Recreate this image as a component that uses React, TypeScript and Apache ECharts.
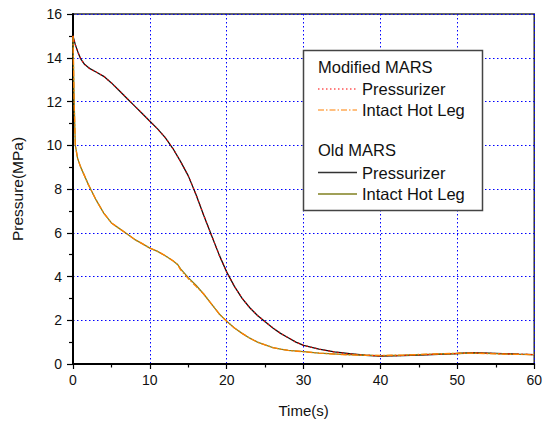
import React, { useEffect, useRef } from "react";
import * as echarts from "echarts";

// Old MARS – pressurizer
const przTime = [0, 0.3, 0.7, 1, 1.5, 2.2, 3, 4, 5, 6, 7, 8, 9, 10, 11, 12, 13, 14, 15, 16, 17, 18, 19, 20, 21, 22, 23, 24, 25, 26, 27, 28, 29, 30, 32, 34, 36, 38, 40, 43, 46, 50, 52, 55, 58, 60];
const przOld = [15.0, 14.6, 14.2, 13.95, 13.7, 13.5, 13.35, 13.15, 12.85, 12.5, 12.15, 11.8, 11.45, 11.1, 10.75, 10.35, 9.85, 9.25, 8.6, 7.75, 6.8, 5.9, 5.0, 4.2, 3.55, 3.0, 2.57, 2.22, 1.93, 1.65, 1.4, 1.2, 1.0, 0.85, 0.68, 0.55, 0.47, 0.4, 0.36, 0.38, 0.42, 0.48, 0.52, 0.49, 0.45, 0.43];
const przMod = [15.0, 14.6, 14.2, 13.95, 13.7, 13.5, 13.35, 13.15, 12.85, 12.5, 12.15, 11.8, 11.45, 11.1, 10.75, 10.35, 9.85, 9.25, 8.6, 7.75, 6.8, 5.9, 5.0, 4.2, 3.55, 3.0, 2.57, 2.22, 1.93, 1.65, 1.4, 1.2, 1.0, 0.85, 0.68, 0.55, 0.46, 0.4, 0.37, 0.39, 0.43, 0.48, 0.51, 0.48, 0.45, 0.43];

// Intact hot leg
const hlTime = [0, 0.05, 0.15, 0.3, 0.6, 1, 2, 3, 4, 5, 6, 7, 8, 9, 10, 11, 12, 13, 13.6, 14, 15, 16, 17, 18, 19, 20, 21, 22, 23, 24, 25, 26, 27, 28, 30, 32, 35, 38, 40, 43, 46, 50, 52, 55, 58, 60];
const hlOld = [15.0, 14.0, 12.0, 10.0, 9.4, 9.0, 8.2, 7.5, 6.9, 6.45, 6.2, 5.95, 5.7, 5.5, 5.3, 5.15, 4.95, 4.72, 4.55, 4.35, 3.95, 3.6, 3.2, 2.75, 2.3, 1.95, 1.65, 1.4, 1.18, 1.0, 0.87, 0.75, 0.68, 0.62, 0.57, 0.5, 0.44, 0.4, 0.38, 0.4, 0.44, 0.48, 0.5, 0.47, 0.44, 0.43];
const hlMod = [15.0, 14.0, 12.0, 10.0, 9.4, 9.0, 8.2, 7.5, 6.9, 6.45, 6.2, 5.95, 5.7, 5.5, 5.3, 5.15, 4.95, 4.72, 4.55, 4.3, 3.9, 3.55, 3.2, 2.75, 2.3, 1.95, 1.65, 1.4, 1.18, 1.0, 0.87, 0.75, 0.68, 0.62, 0.56, 0.5, 0.43, 0.4, 0.39, 0.41, 0.45, 0.49, 0.5, 0.46, 0.44, 0.43];

const FONT = "Liberation Sans, Arial, sans-serif";

const pairs = (t: number[], v: number[]) => t.map((x, i) => [x, v[i]]);

export default function App() {
  const ref = useRef<HTMLDivElement>(null);
  useEffect(() => {
    const chart = echarts.init(ref.current!, null, { renderer: "svg" });
    const lx0 = 318, lx1 = 357, tx = 362;
    const legendRows = [
      { y: 67, text: "Modified MARS", line: null as any },
      { y: 89, text: "Pressurizer", line: { stroke: "#ff0000", lineDash: [1.5, 2.5], lineWidth: 1.2 } },
      { y: 110, text: "Intact Hot Leg", line: { stroke: "#ff8000", lineDash: [6, 2, 1.5, 2], lineWidth: 1.2 } },
      { y: 150, text: "Old MARS", line: null as any },
      { y: 172.5, text: "Pressurizer", line: { stroke: "#333333", lineWidth: 1.3 } },
      { y: 194, text: "Intact Hot Leg", line: { stroke: "#808020", lineWidth: 1.3 } },
    ];
    const graphics: any[] = [
      {
        type: "rect",
        shape: { x: 303.5, y: 50.5, width: 179, height: 160 },
        style: { fill: "#ffffff", stroke: "#444444", lineWidth: 1.5 },
        z: 100,
      },
    ];
    legendRows.forEach((r) => {
      if (r.line) {
        graphics.push({
          type: "line",
          shape: { x1: lx0, y1: r.y, x2: lx1, y2: r.y },
          style: { ...r.line, fill: null },
          z: 101,
        });
      }
      graphics.push({
        type: "text",
        x: r.line ? tx : lx0,
        y: r.y,
        style: { text: r.text, font: `16.5px ${FONT}`, fill: "#111111", verticalAlign: "middle", align: "left" },
        z: 101,
      });
    });

    chart.setOption({
      animation: false,
      backgroundColor: "#ffffff",
      grid: {
        left: 73,
        right: 7,
        top: 14,
        bottom: 56,
        show: true,
        borderColor: "#333333",
        borderWidth: 1.5,
        backgroundColor: "transparent",
      },
      xAxis: {
        type: "value",
        min: 0,
        max: 60,
        interval: 10,
        name: "Time(s)",
        nameLocation: "middle",
        nameGap: 39,
        nameTextStyle: { fontFamily: FONT, fontSize: 15, color: "#111" },
        axisLine: { show: true, onZero: false, lineStyle: { color: "#000", width: 2 } },
        axisTick: { show: true, inside: false, length: 5, lineStyle: { color: "#000", width: 1.2 } },
        minorTick: { show: true, splitNumber: 2, length: 3.5, lineStyle: { color: "#000", width: 1.2 } },
        axisLabel: { fontFamily: FONT, fontSize: 14, color: "#111", margin: 9 },
        splitLine: { show: true, lineStyle: { color: "#0000ff", type: [1.5, 2.5], width: 1 } },
      },
      yAxis: {
        type: "value",
        min: 0,
        max: 16,
        interval: 2,
        name: "Pressure(MPa)",
        nameLocation: "middle",
        nameGap: 48,
        nameTextStyle: { fontFamily: FONT, fontSize: 15.5, color: "#111" },
        axisLine: { show: true, onZero: false, lineStyle: { color: "#000", width: 2 } },
        axisTick: { show: true, inside: false, length: 6, lineStyle: { color: "#000", width: 1.2 } },
        minorTick: { show: true, splitNumber: 2, length: 4, lineStyle: { color: "#000", width: 1.2 } },
        axisLabel: { fontFamily: FONT, fontSize: 14, color: "#111", margin: 11 },
        splitLine: { show: true, lineStyle: { color: "#0000ff", type: [1.5, 2.5], width: 1 } },
      },
      series: [
        {
          name: "Old Pressurizer",
          type: "line",
          data: pairs(przTime, przOld),
          showSymbol: false,
          lineStyle: { color: "#111111", width: 1.3 },
          z: 2,
        },
        {
          name: "Old Intact Hot Leg",
          type: "line",
          data: pairs(hlTime, hlOld),
          showSymbol: false,
          lineStyle: { color: "#808020", width: 1.3 },
          z: 2,
        },
        {
          name: "Modified Pressurizer",
          type: "line",
          data: pairs(przTime, przMod),
          showSymbol: false,
          lineStyle: { color: "#ff0000", width: 1.2, type: [1.5, 3] },
          z: 3,
        },
        {
          name: "Modified Intact Hot Leg",
          type: "line",
          data: pairs(hlTime, hlMod),
          showSymbol: false,
          lineStyle: { color: "#ff8000", width: 1.3, type: [6, 2, 1.5, 2] },
          z: 3,
        },
      ],
      graphic: graphics,
    });
    return () => chart.dispose();
  }, []);
  return <div ref={ref} style={{ width: 545, height: 423, position: "absolute", left: 0, top: 0 }} />;
}
